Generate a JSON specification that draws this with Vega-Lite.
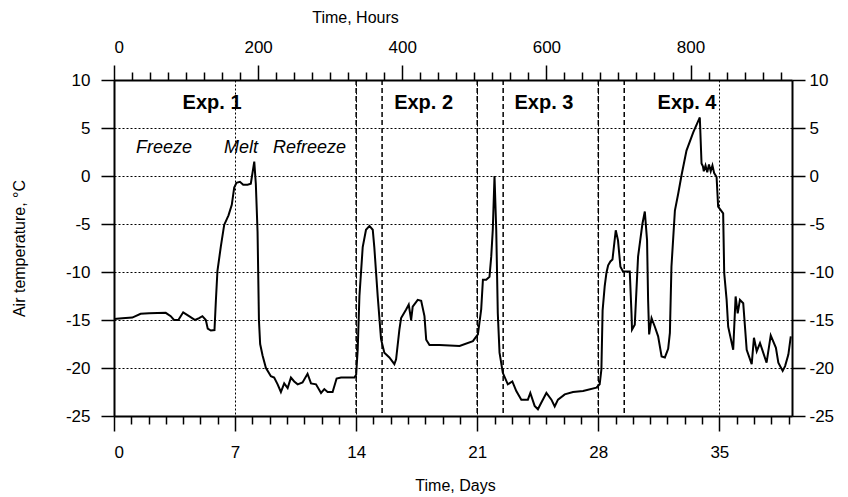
{
  "$schema": "https://vega.github.io/schema/vega-lite/v6.json",
  "width": 678,
  "height": 336,
  "autosize": {"type": "none"},
  "padding": {"left": 114, "top": 80, "right": 56, "bottom": 81},
  "background": "white",
  "config": {
    "view": {"stroke": null},
    "font": "Liberation Sans",
    "axis": {
      "labelFont": "Liberation Sans",
      "titleFont": "Liberation Sans",
      "labelFontSize": 17,
      "titleFontSize": 16,
      "labelColor": "#000",
      "titleColor": "#000",
      "titleFontWeight": "normal",
      "domainColor": "#000",
      "domainWidth": 2,
      "tickColor": "#000",
      "tickWidth": 1.5
    }
  },
  "datasets": {
    "temps": [
      {"day": 0, "temp": -14.9}, {"day": 0.48, "temp": -14.82}, {"day": 1.06, "temp": -14.75}, {"day": 1.54, "temp": -14.35},
      {"day": 2.03, "temp": -14.3}, {"day": 2.99, "temp": -14.25}, {"day": 3.28, "temp": -14.6}, {"day": 3.47, "temp": -15.0},
      {"day": 3.72, "temp": -15.0}, {"day": 4.0, "temp": -14.2}, {"day": 4.34, "temp": -14.6}, {"day": 4.69, "temp": -15.0},
      {"day": 4.92, "temp": -14.8}, {"day": 5.11, "temp": -14.6}, {"day": 5.31, "temp": -15.0}, {"day": 5.42, "temp": -15.9},
      {"day": 5.6, "temp": -16.1}, {"day": 5.81, "temp": -16.05}, {"day": 5.89, "temp": -13}, {"day": 5.98, "temp": -9.9},
      {"day": 6.18, "temp": -7.3}, {"day": 6.37, "temp": -5.1}, {"day": 6.62, "temp": -4.1}, {"day": 6.81, "temp": -3.0},
      {"day": 6.95, "temp": -1.2}, {"day": 7.08, "temp": -0.7}, {"day": 7.28, "temp": -0.6}, {"day": 7.47, "temp": -0.9},
      {"day": 7.72, "temp": -0.9}, {"day": 7.91, "temp": -0.8}, {"day": 8.11, "temp": 1.5}, {"day": 8.2, "temp": -0.8},
      {"day": 8.3, "temp": -5.8}, {"day": 8.38, "temp": -15.0}, {"day": 8.45, "temp": -17.5}, {"day": 8.59, "temp": -18.7},
      {"day": 8.78, "temp": -19.98}, {"day": 9.07, "temp": -20.85}, {"day": 9.26, "temp": -21.0}, {"day": 9.46, "temp": -21.7},
      {"day": 9.65, "temp": -22.5}, {"day": 9.84, "temp": -21.6}, {"day": 10.04, "temp": -22.1}, {"day": 10.23, "temp": -21.0},
      {"day": 10.42, "temp": -21.4}, {"day": 10.62, "temp": -21.7}, {"day": 10.9, "temp": -21.5}, {"day": 11.19, "temp": -20.6},
      {"day": 11.39, "temp": -21.6}, {"day": 11.68, "temp": -21.7}, {"day": 11.97, "temp": -22.6}, {"day": 12.16, "temp": -22.2},
      {"day": 12.35, "temp": -22.5}, {"day": 12.64, "temp": -22.5}, {"day": 12.87, "temp": -21.1}, {"day": 13.13, "temp": -21.0},
      {"day": 13.9, "temp": -21.0}, {"day": 14.0, "temp": -20.7}, {"day": 14.09, "temp": -18.1}, {"day": 14.19, "temp": -12.5},
      {"day": 14.38, "temp": -7.4}, {"day": 14.57, "temp": -5.6}, {"day": 14.77, "temp": -5.2}, {"day": 14.96, "temp": -5.6},
      {"day": 15.05, "temp": -7.4}, {"day": 15.25, "temp": -12.6}, {"day": 15.44, "temp": -17.0}, {"day": 15.63, "temp": -18.4},
      {"day": 15.92, "temp": -18.9}, {"day": 16.21, "temp": -19.6}, {"day": 16.31, "temp": -19.1}, {"day": 16.5, "temp": -16.0},
      {"day": 16.6, "temp": -14.8}, {"day": 16.89, "temp": -13.9}, {"day": 17.04, "temp": -13.4}, {"day": 17.18, "temp": -15.0},
      {"day": 17.27, "temp": -13.6}, {"day": 17.56, "temp": -12.9}, {"day": 17.76, "temp": -13.0}, {"day": 17.95, "temp": -14.6},
      {"day": 18.05, "temp": -17.05}, {"day": 18.24, "temp": -17.6}, {"day": 18.82, "temp": -17.6}, {"day": 19.98, "temp": -17.7},
      {"day": 20.75, "temp": -17.2}, {"day": 21.04, "temp": -16.5}, {"day": 21.23, "temp": -13.9}, {"day": 21.33, "temp": -10.8},
      {"day": 21.52, "temp": -10.8}, {"day": 21.71, "temp": -10.5}, {"day": 21.81, "temp": -8.4}, {"day": 21.9, "temp": -5.6},
      {"day": 22.0, "temp": 0.0}, {"day": 22.1, "temp": -5.6}, {"day": 22.19, "temp": -14.3}, {"day": 22.29, "temp": -18.4},
      {"day": 22.48, "temp": -20.5}, {"day": 22.77, "temp": -21.7}, {"day": 23.03, "temp": -21.4}, {"day": 23.26, "temp": -22.4},
      {"day": 23.55, "temp": -23.3}, {"day": 23.93, "temp": -23.3}, {"day": 24.07, "temp": -22.6}, {"day": 24.32, "temp": -23.95},
      {"day": 24.51, "temp": -24.3}, {"day": 24.71, "temp": -23.6}, {"day": 25.0, "temp": -22.6}, {"day": 25.29, "temp": -23.3},
      {"day": 25.48, "temp": -24.0}, {"day": 25.67, "temp": -23.3}, {"day": 26.06, "temp": -22.75}, {"day": 26.54, "temp": -22.5},
      {"day": 27.12, "temp": -22.4}, {"day": 27.89, "temp": -22.05}, {"day": 28.08, "temp": -21.7}, {"day": 28.18, "temp": -20.15},
      {"day": 28.25, "temp": -14.0}, {"day": 28.37, "temp": -11.5}, {"day": 28.47, "temp": -10.1}, {"day": 28.57, "temp": -9.3},
      {"day": 28.7, "temp": -8.9}, {"day": 28.82, "temp": -8.7}, {"day": 29.01, "temp": -5.65}, {"day": 29.14, "temp": -6.7},
      {"day": 29.28, "temp": -9.45}, {"day": 29.43, "temp": -9.95}, {"day": 29.82, "temp": -9.95}, {"day": 29.92, "temp": -14.3},
      {"day": 29.95, "temp": -16.0}, {"day": 30.11, "temp": -15.5}, {"day": 30.3, "temp": -8.4}, {"day": 30.55, "temp": -5.0},
      {"day": 30.69, "temp": -3.7}, {"day": 30.82, "temp": -6.7}, {"day": 30.88, "temp": -12.9}, {"day": 30.94, "temp": -16.5},
      {"day": 31.08, "temp": -14.8}, {"day": 31.27, "temp": -15.7}, {"day": 31.46, "temp": -16.7}, {"day": 31.66, "temp": -18.8},
      {"day": 31.85, "temp": -18.9}, {"day": 32.04, "temp": -18.0}, {"day": 32.14, "temp": -16.35}, {"day": 32.23, "temp": -9.45},
      {"day": 32.43, "temp": -3.6}, {"day": 32.62, "temp": -1.85}, {"day": 32.81, "temp": 0.05}, {"day": 33.1, "temp": 2.65},
      {"day": 33.49, "temp": 4.55}, {"day": 33.87, "temp": 6.1}, {"day": 33.97, "temp": 1.3}, {"day": 34.05, "temp": 1.0},
      {"day": 34.1, "temp": 0.5}, {"day": 34.2, "temp": 1.1}, {"day": 34.3, "temp": 0.4}, {"day": 34.4, "temp": 1.2},
      {"day": 34.5, "temp": 0.5}, {"day": 34.6, "temp": 1.1}, {"day": 34.7, "temp": 0.3}, {"day": 34.84, "temp": -0.1},
      {"day": 34.93, "temp": -3.2}, {"day": 35.22, "temp": -3.9}, {"day": 35.28, "temp": -10.1}, {"day": 35.42, "temp": -12.9},
      {"day": 35.51, "temp": -15.7}, {"day": 35.8, "temp": -18.1}, {"day": 35.94, "temp": -12.55}, {"day": 36.06, "temp": -14.3},
      {"day": 36.19, "temp": -12.9}, {"day": 36.38, "temp": -13.25}, {"day": 36.58, "temp": -18.1}, {"day": 36.87, "temp": -19.6},
      {"day": 37.0, "temp": -16.85}, {"day": 37.16, "temp": -18.25}, {"day": 37.35, "temp": -17.4}, {"day": 37.73, "temp": -19.45},
      {"day": 37.97, "temp": -16.6}, {"day": 38.27, "temp": -17.9}, {"day": 38.41, "temp": -19.45}, {"day": 38.66, "temp": -20.3},
      {"day": 38.8, "temp": -19.8}, {"day": 38.99, "temp": -18.6}, {"day": 39.13, "temp": -16.7}
    ],
    "bounds": [
      {"day": 14}, {"day": 15.5}, {"day": 21}, {"day": 22.5}, {"day": 28}, {"day": 29.5}
    ],
    "experiments": [
      {"label": "Exp. 1", "day": 5.67, "temp": 7.6},
      {"label": "Exp. 2", "day": 17.9, "temp": 7.6},
      {"label": "Exp. 3", "day": 24.86, "temp": 7.6},
      {"label": "Exp. 4", "day": 33.13, "temp": 7.6}
    ],
    "phases": [
      {"label": "Freeze", "day": 2.89, "temp": 2.9},
      {"label": "Melt", "day": 7.34, "temp": 2.9},
      {"label": "Refreeze", "day": 11.3, "temp": 2.9}
    ],
    "hourAxis": [{"hours": 0}]
  },
  "layer": [
    {
      "data": {"name": "temps"},
      "mark": {"type": "line", "color": "#000", "strokeWidth": 2},
      "encoding": {
        "x": {
          "field": "day", "type": "quantitative",
          "scale": {"domain": [0, 39.2], "nice": false, "zero": false},
          "axis": {
            "orient": "bottom", "values": [0, 7, 14, 21, 28, 35], "tickSize": 15, "labelPadding": 13,
            "grid": true, "gridDash": [2, 2], "gridColor": "#000", "gridWidth": 1,
            "title": "Time, Days", "titleX": 341, "titleY": 74, "titleBaseline": "alphabetic", "titleAlign": "center"
          }
        },
        "y": {
          "field": "temp", "type": "quantitative",
          "scale": {"domain": [-25, 10], "nice": false, "zero": false},
          "axis": {
            "orient": "left", "values": [-25, -20, -15, -10, -5, 0, 5, 10], "tickSize": 13, "labelPadding": 11,
            "labelExpr": "toString(datum.value)",
            "grid": true, "gridDash": [2, 2], "gridColor": "#000", "gridWidth": 1,
            "title": "Air temperature, °C", "titleX": -90, "titleY": 168, "titleAngle": -90,
            "titleBaseline": "alphabetic", "titleAlign": "center"
          }
        }
      }
    },
    {
      "data": {"name": "bounds"},
      "mark": {"type": "rule", "color": "#000", "strokeWidth": 1.5, "strokeDash": [5, 3]},
      "encoding": {
        "x": {"field": "day", "type": "quantitative", "scale": {"domain": [0, 39.2], "nice": false, "zero": false}, "axis": null}
      }
    },
    {
      "data": {"name": "experiments"},
      "mark": {"type": "text", "font": "Liberation Sans", "fontSize": 20, "fontWeight": "bold", "color": "#000", "align": "center", "baseline": "middle"},
      "encoding": {
        "x": {"field": "day", "type": "quantitative", "scale": {"domain": [0, 39.2], "nice": false, "zero": false}, "axis": null},
        "y": {
          "field": "temp", "type": "quantitative",
          "scale": {"domain": [-25, 10], "nice": false, "zero": false},
          "axis": {
            "orient": "right", "values": [-25, -20, -15, -10, -5, 0, 5, 10], "tickSize": 13, "labelPadding": 4,
            "labelExpr": "toString(datum.value)", "grid": false, "title": null
          }
        },
        "text": {"field": "label"}
      }
    },
    {
      "data": {"name": "phases"},
      "mark": {"type": "text", "font": "Liberation Sans", "fontSize": 18, "fontStyle": "italic", "color": "#000", "align": "center", "baseline": "middle"},
      "encoding": {
        "x": {"field": "day", "type": "quantitative", "scale": {"domain": [0, 39.2], "nice": false, "zero": false}, "axis": null},
        "y": {"field": "temp", "type": "quantitative", "scale": {"domain": [-25, 10], "nice": false, "zero": false}, "axis": null},
        "text": {"field": "label"}
      }
    },
    {
      "data": {"name": "hourAxis"},
      "mark": {"type": "point", "opacity": 0},
      "encoding": {
        "x": {
          "field": "hours", "type": "quantitative",
          "scale": {"domain": [0, 940.8], "nice": false, "zero": false},
          "axis": {
            "orient": "top", "values": [0, 200, 400, 600, 800], "tickSize": 15, "labelPadding": 9, "grid": false,
            "title": "Time, Hours", "titleX": 241, "titleY": -58, "titleBaseline": "alphabetic", "titleAlign": "center"
          }
        }
      }
    },
    {
      "data": {"name": "hourAxis"},
      "mark": {"type": "point", "opacity": 0},
      "encoding": {
        "x": {
          "field": "hours", "type": "quantitative",
          "scale": {"domain": [0, 940.8], "nice": false, "zero": false},
          "axis": {
            "orient": "top",
            "values": [25, 50, 75, 100, 125, 150, 175, 225, 250, 275, 300, 325, 350, 375, 425, 450, 475, 500, 525, 550, 575, 625, 650, 675, 700, 725, 750, 775, 825, 850, 875, 900, 925],
            "tickSize": 8, "labels": false, "domain": false, "grid": false, "title": null
          }
        }
      }
    },
    {
      "data": {"name": "bounds"},
      "mark": {"type": "point", "opacity": 0},
      "encoding": {
        "x": {
          "field": "day", "type": "quantitative",
          "scale": {"domain": [0, 39.2], "nice": false, "zero": false},
          "axis": {
            "orient": "bottom",
            "values": [1, 2, 3, 4, 5, 6, 8, 9, 10, 11, 12, 13, 15, 16, 17, 18, 19, 20, 22, 23, 24, 25, 26, 27, 29, 30, 31, 32, 33, 34, 36, 37, 38, 39],
            "tickSize": 8, "labels": false, "domain": false, "grid": false, "title": null
          }
        }
      }
    }
  ],
  "resolve": {
    "scale": {"x": "independent", "y": "independent"},
    "axis": {"x": "independent", "y": "independent"}
  }
}
